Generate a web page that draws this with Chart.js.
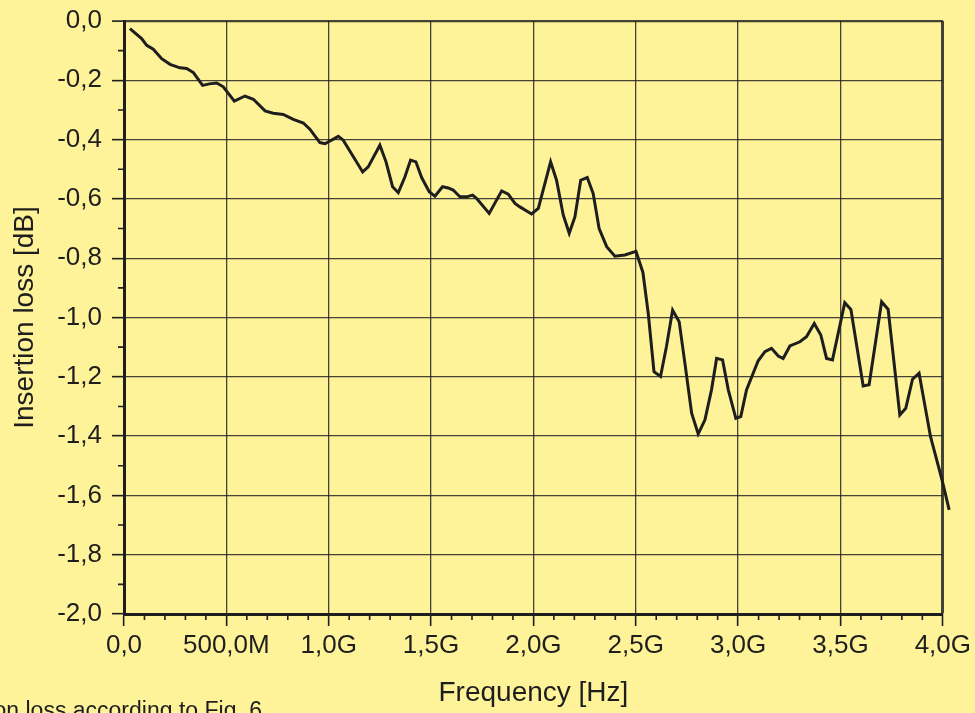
<!DOCTYPE html>
<html>
<head>
<meta charset="utf-8">
<script src="https://cdn.jsdelivr.net/npm/chart.js@4"></script>
<style>
  html, body { margin: 0; padding: 0; background: rgb(255, 243, 153); overflow: hidden; }
  #wrap { position: relative; width: 975px; height: 713px; }
  #caption {
    position: absolute; right: 713px; top: 697px;
    font: 23px "Liberation Sans", Arial, sans-serif; color: #1e1e1e; white-space: nowrap;
  }
</style>
</head>
<body>
<div id="wrap">
  <canvas id="graph1" width="975" height="713"></canvas>
  <div id="caption">Fig. 7: Insertion loss according to Fig. 6</div>
</div>
<script>
// frequency in GHz
const freq = [
  0.029, 0.086, 0.111, 0.143, 0.184, 0.225, 0.273, 0.306, 0.339, 0.384,
  0.417, 0.453, 0.485, 0.539, 0.591, 0.632, 0.689, 0.729, 0.778, 0.827,
  0.876, 0.908, 0.957, 0.982, 1.047, 1.071, 1.166, 1.193, 1.250, 1.280,
  1.312, 1.340, 1.372, 1.400, 1.426, 1.454, 1.491, 1.519, 1.556, 1.584,
  1.608, 1.641, 1.674, 1.703, 1.722, 1.784, 1.845, 1.877, 1.910, 1.934,
  1.991, 2.024, 2.084, 2.113, 2.146, 2.175, 2.203, 2.231, 2.263, 2.292,
  2.321, 2.358, 2.398, 2.447, 2.501, 2.535, 2.561, 2.589, 2.621, 2.650,
  2.680, 2.712, 2.740, 2.773, 2.805, 2.838, 2.870, 2.895, 2.924, 2.952,
  2.989, 3.013, 3.041, 3.098, 3.131, 3.163, 3.196, 3.220, 3.253, 3.302,
  3.334, 3.372, 3.404, 3.432, 3.461, 3.521, 3.551, 3.611, 3.640, 3.701,
  3.733, 3.790, 3.819, 3.852, 3.884, 3.940, 3.998, 4.031
];
// insertion loss in dB
const loss = [
  -0.026, -0.059, -0.082, -0.095, -0.127, -0.146, -0.158, -0.160, -0.174, -0.217,
  -0.212, -0.209, -0.222, -0.270, -0.253, -0.264, -0.303, -0.311, -0.315, -0.332,
  -0.344, -0.365, -0.410, -0.414, -0.389, -0.402, -0.509, -0.492, -0.419, -0.475,
  -0.559, -0.579, -0.526, -0.469, -0.475, -0.528, -0.576, -0.591, -0.559, -0.563,
  -0.570, -0.593, -0.593, -0.587, -0.598, -0.649, -0.573, -0.584, -0.615, -0.627,
  -0.651, -0.632, -0.475, -0.537, -0.655, -0.716, -0.660, -0.537, -0.528, -0.582,
  -0.700, -0.761, -0.793, -0.789, -0.777, -0.848, -0.986, -1.183, -1.199, -1.098,
  -0.975, -1.014, -1.154, -1.323, -1.393, -1.345, -1.244, -1.138, -1.143, -1.244,
  -1.340, -1.334, -1.244, -1.146, -1.115, -1.104, -1.130, -1.138, -1.096, -1.082,
  -1.065, -1.020, -1.059, -1.138, -1.143, -0.950, -0.973, -1.231, -1.227, -0.947,
  -0.973, -1.329, -1.306, -1.208, -1.188, -1.402, -1.553, -1.649
];

const xMinorTicks = [0.1, 0.2, 0.3, 0.4, 0.6, 0.7, 0.8, 0.9, 1.1, 1.2, 1.3, 1.4, 1.6, 1.7, 1.8, 1.9,
  2.1, 2.2, 2.3, 2.4, 2.6, 2.7, 2.8, 2.9, 3.1, 3.2, 3.3, 3.4, 3.6, 3.7, 3.8, 3.9];
const yMinorTicks = [-0.1, -0.3, -0.5, -0.7, -0.9, -1.1, -1.3, -1.5, -1.7, -1.9];

const FONT = "'Liberation Sans', Arial, Helvetica, sans-serif";
const INK = '#1e1e1e';

function xLabel(v) {
  if (Math.abs(v) < 1e-9) return '0,0';
  if (Math.abs(v - 0.5) < 1e-9) return '500,0M';
  return v.toFixed(1).replace('.', ',') + 'G';
}
function yLabel(v) {
  if (Math.abs(v) < 1e-9) return '0,0';
  return v.toFixed(1).replace('.', ',');
}

// kleine Zwischenstriche an den Achsen
const minorTickPlugin = {
  id: 'minorTicks',
  afterDraw(chart) {
    const { ctx, scales: { x, y }, chartArea } = chart;
    ctx.save();
    ctx.strokeStyle = INK;
    ctx.lineWidth = 1.6;
    ctx.beginPath();
    for (const v of xMinorTicks) {
      const px = x.getPixelForValue(v);
      ctx.moveTo(px, chartArea.bottom);
      ctx.lineTo(px, chartArea.bottom + 6);
    }
    for (const v of yMinorTicks) {
      const py = y.getPixelForValue(v);
      ctx.moveTo(chartArea.left - 6, py);
      ctx.lineTo(chartArea.left, py);
    }
    ctx.stroke();
    ctx.restore();
  }
};

window.addEventListener('load', function () {
  const ctx = document.getElementById('graph1').getContext('2d');
  const points = freq.map((f, i) => ({ x: f, y: loss[i] }));

  new Chart(ctx, {
    type: 'line',
    data: {
      datasets: [{
        data: points,
        borderColor: INK,
        borderWidth: 3,
        pointRadius: 0,
        tension: 0,
        fill: false,
        clip: false
      }]
    },
    plugins: [minorTickPlugin],
    options: {
      responsive: false,
      animation: false,
      devicePixelRatio: 1,
      layout: { padding: { left: 0, right: 32, top: 21, bottom: 0 } },
      plugins: { legend: { display: false }, tooltip: { enabled: false } },
      scales: {
        x: {
          type: 'linear',
          min: 0,
          max: 4,
          afterFit(scale) { scale.height = 99; },
          ticks: {
            stepSize: 0.5,
            color: INK,
            font: { family: FONT, size: 26 },
            padding: 4,
            maxRotation: 0,
            callback: xLabel
          },
          grid: {
            color: 'rgba(35,35,35,0.85)',
            lineWidth: (c) => (c.tick && Math.abs(c.tick.value - 4) < 1e-9) ? 3 : 1.3,
            tickColor: INK,
            tickLength: 12,
            tickWidth: 1.6
          },
          border: { color: INK, width: 3 },
          title: {
            display: true,
            text: 'Frequency [Hz]',
            color: INK,
            font: { family: FONT, size: 28 },
            padding: { top: 0, bottom: 3 }
          }
        },
        y: {
          min: -2,
          max: 0,
          afterFit(scale) {
            scale.width = 124;
            scale.paddingTop = 0;
            scale.paddingBottom = 0;
          },
          ticks: {
            stepSize: 0.2,
            color: INK,
            font: { family: FONT, size: 26 },
            padding: 10,
            callback: yLabel
          },
          grid: {
            color: 'rgba(35,35,35,0.85)',
            lineWidth: (c) => (c.tick && Math.abs(c.tick.value) < 1e-9) ? 2.2 : 1.3,
            tickColor: INK,
            tickLength: 12,
            tickWidth: 1.6
          },
          border: { color: INK, width: 3 },
          title: {
            display: true,
            text: 'Insertion loss [dB]',
            color: INK,
            font: { family: FONT, size: 28 },
            padding: { top: 8, bottom: 0 }
          }
        }
      }
    }
  });
});
</script>
</body>
</html>
